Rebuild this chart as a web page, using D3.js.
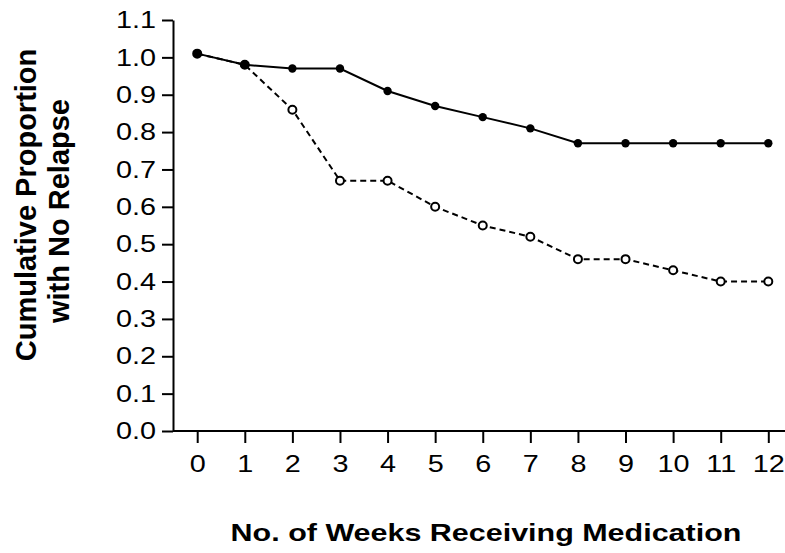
<!DOCTYPE html>
<html>
<head>
<meta charset="utf-8">
<script src="https://cdn.jsdelivr.net/npm/d3@7"></script>
<style>
  body { margin: 0; background: #fff; }
  text { font-family: "Liberation Sans", Arial, sans-serif; fill: #000; }
</style>
</head>
<body>
<div id="chart"></div>
<script>
var svgWidth = 785;
var svgHeight = 553;

// data
var weeks = [0, 1, 2, 3, 4, 5, 6, 7, 8, 9, 10, 11, 12];
var medicationGroup = [1.01, 0.98, 0.97, 0.97, 0.91, 0.87, 0.84, 0.81, 0.77, 0.77, 0.77, 0.77, 0.77];
var placeboGroup = [1.01, 0.98, 0.86, 0.67, 0.67, 0.60, 0.55, 0.52, 0.46, 0.46, 0.43, 0.40, 0.40];
var yTicks = [0, 0.1, 0.2, 0.3, 0.4, 0.5, 0.6, 0.7, 0.8, 0.9, 1.0, 1.1];

// the original text is a bit wider than normal Arial
var stretch = 1.2;

var svg = d3.select("#chart")
    .append("svg")
    .attr("width", svgWidth)
    .attr("height", svgHeight);

// scales
var xScale = d3.scaleLinear()
    .domain([0, 12])
    .range([197.2, 768.3]);

var yScale = d3.scaleLinear()
    .domain([0, 1.1])
    .range([431, 20]);

var axisX = 173;

// y axis
var leftAxis = d3.axisLeft(yScale)
    .tickValues(yTicks)
    .tickFormat(d3.format(".1f"))
    .tickSize(11)
    .tickSizeOuter(0);

var yAxis = svg.append("g")
    .attr("transform", `translate(${axisX}, 0)`)
    .call(leftAxis);
yAxis.select(".domain").attr("stroke-width", 2);
yAxis.selectAll(".tick line").attr("stroke-width", 2);
yAxis.selectAll(".tick text")
    .attr("font-size", "24px")
    .attr("font-family", "Liberation Sans, Arial, sans-serif")
    .attr("x", -17 / stretch)
    .attr("transform", `scale(${stretch}, 1)`);

// x axis line runs to the right edge
svg.append("line")
    .attr("x1", axisX)
    .attr("x2", svgWidth)
    .attr("y1", yScale(0))
    .attr("y2", yScale(0))
    .attr("stroke", "#000")
    .attr("stroke-width", 2);

var bottomAxis = d3.axisBottom(xScale)
    .tickValues(weeks)
    .tickFormat(d3.format("d"))
    .tickSize(12)
    .tickSizeOuter(0)
    .tickPadding(12);

var xAxis = svg.append("g")
    .attr("transform", `translate(0, ${yScale(0)})`)
    .call(bottomAxis);
xAxis.select(".domain").remove();
xAxis.selectAll(".tick line").attr("stroke-width", 2);
xAxis.selectAll(".tick text")
    .attr("font-size", "24px")
    .attr("font-family", "Liberation Sans, Arial, sans-serif")
    .attr("transform", `scale(${stretch}, 1)`);

// lines
var line = d3.line()
    .x((d, i) => xScale(weeks[i]))
    .y(d => yScale(d));

// dashed group first so the solid one sits on top
svg.append("path")
    .datum(placeboGroup)
    .attr("d", line)
    .attr("fill", "none")
    .attr("stroke", "#000")
    .attr("stroke-width", 2)
    .attr("stroke-dasharray", "6,4");

svg.selectAll(".open")
    .data(placeboGroup)
    .enter().append("circle")
    .attr("class", "open")
    .attr("cx", (d, i) => xScale(weeks[i]))
    .attr("cy", d => yScale(d))
    .attr("r", 4)
    .attr("fill", "#fff")
    .attr("stroke", "#000")
    .attr("stroke-width", 2);

svg.append("path")
    .datum(medicationGroup)
    .attr("d", line)
    .attr("fill", "none")
    .attr("stroke", "#000")
    .attr("stroke-width", 2);

svg.selectAll(".filled")
    .data(medicationGroup)
    .enter().append("circle")
    .attr("class", "filled")
    .attr("cx", (d, i) => xScale(weeks[i]))
    .attr("cy", d => yScale(d))
    .attr("r", 4.2)
    .attr("fill", "#000");

// axis titles
svg.append("text")
    .attr("transform", "translate(486, 541) scale(1.27, 1)")
    .attr("text-anchor", "middle")
    .attr("font-size", "24px")
    .attr("font-weight", "bold")
    .text("No. of Weeks Receiving Medication");

var yTitle = svg.append("text")
    .attr("transform", "rotate(-90)")
    .attr("text-anchor", "middle")
    .attr("font-size", "29px")
    .attr("font-weight", "bold");
yTitle.append("tspan").attr("x", -205).attr("y", 36).text("Cumulative Proportion");
yTitle.append("tspan").attr("x", -211).attr("y", 69).text("with No Relapse");
</script>
</body>
</html>
